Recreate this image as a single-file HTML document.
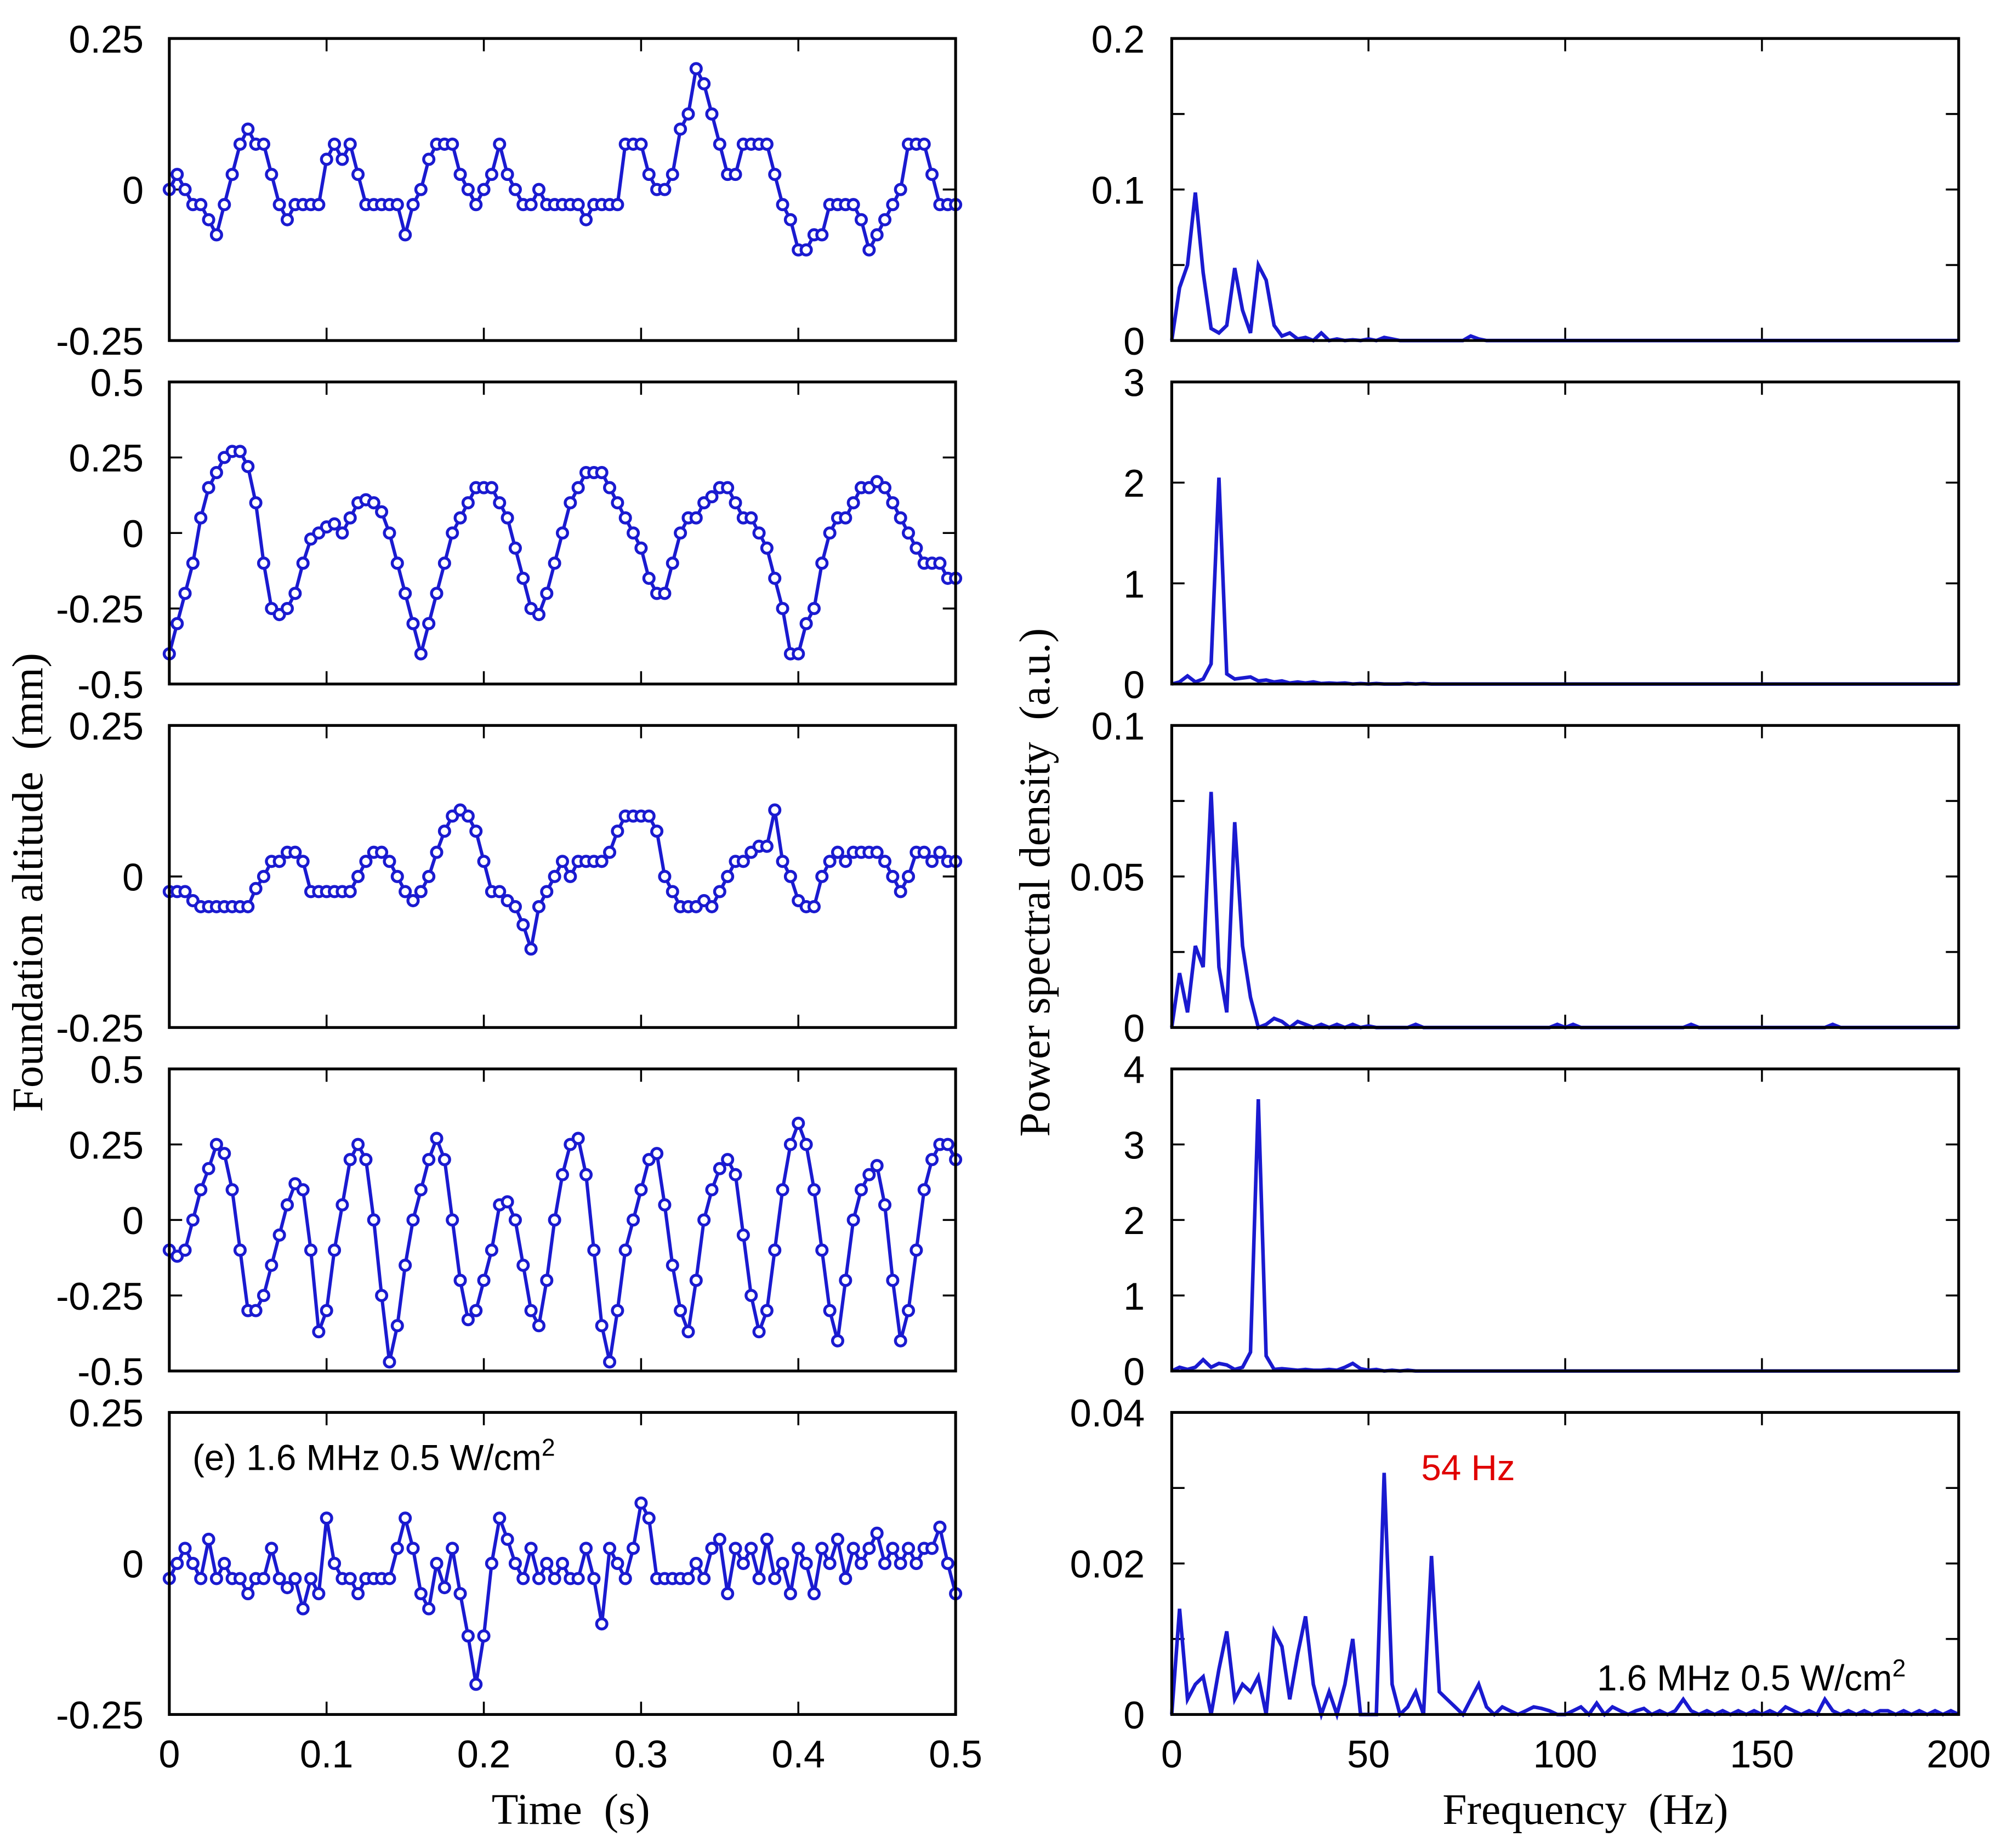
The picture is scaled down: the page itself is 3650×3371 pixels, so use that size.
<!DOCTYPE html>
<html><head><meta charset="utf-8">
<style>
html,body{margin:0;padding:0;background:#fff;}
svg{display:block;}
.tk{font-family:"Liberation Sans",sans-serif;font-size:30px;fill:#000;}
.an{font-family:"Liberation Sans",sans-serif;font-size:28px;fill:#000;}
.ti{font-family:"Liberation Serif",serif;font-size:34px;fill:#000;}
</style></head>
<body>
<svg id="fig" width="3650" height="3371" viewBox="0 0 1560 1440.8" preserveAspectRatio="none" xmlns="http://www.w3.org/2000/svg">
<text class="ti" x="445" y="1422" text-anchor="middle" xml:space="preserve">Time  (s)</text>
<text class="ti" x="1236" y="1422" text-anchor="middle" xml:space="preserve">Frequency  (Hz)</text>
<text class="ti" transform="translate(33,688) rotate(-90)" text-anchor="middle" xml:space="preserve">Foundation altitude  (mm)</text>
<text class="ti" transform="translate(818,688) rotate(-90)" text-anchor="middle" xml:space="preserve">Power spectral density  (a.u.)</text>
</svg>
<script>
const timeSeries1=[0,1,0,-1,-1,-2,-3,-1,1,3, 4,3,3,1,-1,-2,-1,-1,-1,-1, 2,3,2,3,1,-1,-1,-1,-1,-1, -3,-1,0,2,3,3,3,1,0,-1, 0,1,3,1,0,-1,-1,0,-1,-1, -1,-1,-1,-2,-1,-1,-1,-1,3,3, 3,1,0,0,1,4,5,8,7,5, 3,1,1,3,3,3,3,1,-1,-2, -4,-4,-3,-3,-1,-1,-1,-1,-2,-4, -3,-2,-1,0,3,3,3,1,-1,-1, -1].map(v=>v*0.025);
const timeSeries2=[-0.4,-0.3,-0.2,-0.1,0.05,0.15,0.2,0.25,0.27,0.27, 0.22,0.1,-0.1,-0.25,-0.27,-0.25,-0.2,-0.1,-0.02,0.0, 0.02,0.03,0.0,0.05,0.1,0.11,0.1,0.07,0.0,-0.1, -0.2,-0.3,-0.4,-0.3,-0.2,-0.1,0.0,0.05,0.1,0.15, 0.15,0.15,0.1,0.05,-0.05,-0.15,-0.25,-0.27,-0.2,-0.1, 0.0,0.1,0.15,0.2,0.2,0.2,0.15,0.1,0.05,0.0, -0.05,-0.15,-0.2,-0.2,-0.1,0.0,0.05,0.05,0.1,0.12, 0.15,0.15,0.1,0.05,0.05,0.0,-0.05,-0.15,-0.25,-0.4, -0.4,-0.3,-0.25,-0.1,0.0,0.05,0.05,0.1,0.15,0.15, 0.17,0.15,0.1,0.05,0.0,-0.05,-0.1,-0.1,-0.1,-0.15, -0.15];
const timeSeries3=[-0.025,-0.025,-0.025,-0.04,-0.05,-0.05,-0.05,-0.05,-0.05,-0.05, -0.05,-0.02,0.0,0.025,0.025,0.04,0.04,0.025,-0.025,-0.025, -0.025,-0.025,-0.025,-0.025,0.0,0.025,0.04,0.04,0.025,0.0, -0.025,-0.04,-0.025,0.0,0.04,0.075,0.1,0.11,0.1,0.075, 0.025,-0.025,-0.025,-0.04,-0.05,-0.08,-0.12,-0.05,-0.025,0.0, 0.025,0.0,0.025,0.025,0.025,0.025,0.04,0.075,0.1,0.1, 0.1,0.1,0.075,0.0,-0.025,-0.05,-0.05,-0.05,-0.04,-0.05, -0.025,0.0,0.025,0.025,0.04,0.05,0.05,0.11,0.025,0.0, -0.04,-0.05,-0.05,0.0,0.025,0.04,0.025,0.04,0.04,0.04, 0.04,0.025,0.0,-0.025,0.0,0.04,0.04,0.025,0.04,0.025, 0.025];
const timeSeries4=[-0.1,-0.12,-0.1,0,0.1,0.17,0.25,0.22,0.1,-0.1, -0.3,-0.3,-0.25,-0.15,-0.05,0.05,0.12,0.1,-0.1,-0.37, -0.3,-0.1,0.05,0.2,0.25,0.2,0.0,-0.25,-0.47,-0.35, -0.15,0.0,0.1,0.2,0.27,0.2,0.0,-0.2,-0.33,-0.3, -0.2,-0.1,0.05,0.06,0.0,-0.15,-0.3,-0.35,-0.2,0.0, 0.15,0.25,0.27,0.15,-0.1,-0.35,-0.47,-0.3,-0.1,0.0, 0.1,0.2,0.22,0.05,-0.15,-0.3,-0.37,-0.2,0.0,0.1, 0.17,0.2,0.15,-0.05,-0.25,-0.37,-0.3,-0.1,0.1,0.25, 0.32,0.25,0.1,-0.1,-0.3,-0.4,-0.2,0.0,0.1,0.15, 0.18,0.05,-0.2,-0.4,-0.3,-0.1,0.1,0.2,0.25,0.25, 0.2];
const timeSeries5=[-0.025,0.0,0.025,0.0,-0.025,0.04,-0.025,0.0,-0.025,-0.025, -0.05,-0.025,-0.025,0.025,-0.025,-0.04,-0.025,-0.075,-0.025,-0.05, 0.075,0.0,-0.025,-0.025,-0.05,-0.025,-0.025,-0.025,-0.025,0.025, 0.075,0.025,-0.05,-0.075,0.0,-0.04,0.025,-0.05,-0.12,-0.2, -0.12,0.0,0.075,0.04,0.0,-0.025,0.025,-0.025,0.0,-0.025, 0.0,-0.025,-0.025,0.025,-0.025,-0.1,0.025,0.0,-0.025,0.025, 0.1,0.075,-0.025,-0.025,-0.025,-0.025,-0.025,0.0,-0.025,0.025, 0.04,-0.05,0.025,0.0,0.025,-0.025,0.04,-0.025,0.0,-0.05, 0.025,0.0,-0.05,0.025,0.0,0.04,-0.025,0.025,0.0,0.025, 0.05,0.0,0.025,0.0,0.025,0.0,0.025,0.025,0.06,0.0, -0.05];
const psd1=[0,0.035,0.05,0.098,0.045,0.008,0.005,0.01,0.048,0.02,0.005,0.05,0.04,0.01,0.003,0.005,0.001,0.002,0,0.005,0,0.001,0,0.0005,0,0.001,0,0.002,0.001,0,0,0,0,0,0,0,0,0,0.003,0.001];
const psd2=[0,0.02,0.08,0.02,0.05,0.2,2.05,0.1,0.05,0.06,0.07,0.03,0.04,0.02,0.03,0.01,0.02,0.01,0.02,0.005,0.01,0.005,0.01,0,0.005,0,0.005,0,0,0,0.005,0,0.005];
const psd3=[0,0.018,0.005,0.027,0.02,0.078,0.02,0.005,0.068,0.027,0.01,0,0.001,0.003,0.002,0,0.002,0.001,0,0.001,0,0.001,0,0.001,0,0.0005,0,0,0,0,0,0.001,0,0,0,0,0,0,0,0,0,0,0,0,0,0,0,0,0,0.001,0,0.001,0,0,0,0,0,0,0,0,0,0,0,0,0,0,0.001,0,0,0,0,0,0,0,0,0,0,0,0,0,0,0,0,0,0.001];
const psd4=[0,0.05,0.02,0.05,0.15,0.05,0.1,0.08,0.02,0.05,0.25,3.6,0.2,0.02,0.03,0.02,0.01,0.02,0.01,0.01,0.02,0.01,0.05,0.1,0.03,0.01,0.02,0,0.01,0,0.01];
const psd5=[0,0.014,0.002,0.004,0.005,0,0.006,0.011,0.002,0.004,0.003,0.005,0,0.011,0.009,0.002,0.008,0.013,0.004,0,0.003,0,0.004,0.01,0,0,0,0.032,0.004,0,0.001,0.003,0,0.021,0.003,0.002,0.001,0,0.002,0.004,0.001,0,0.001,0.0005,0,0.0005,0.001,0.0008,0.0005,0,0,0.0005,0.001,0,0.0015,0,0.001,0.0005,0,0.0005,0.0008,0,0.0005,0,0.0005,0.002,0.0005,0,0.0005,0,0.0005,0,0.0005,0,0.0005,0,0.0005,0,0.001,0.0005,0,0.0005,0,0.002,0.0005,0,0.0005,0,0.0005,0,0.0005,0.0005,0,0.0005,0,0.0005,0,0.0005,0,0.0005,0];
const timeTicks=[0,0.1,0.2,0.3,0.4,0.5];
const timeTickLabels=["0","0.1","0.2","0.3","0.4","0.5"];
const freqTicks=[0,50,100,150,200];
const freqTickLabels=["0","50","100","150","200"];
const yTicksLeft=[[0.25,0,-0.25],[0.5,0.25,0,-0.25,-0.5],[0.25,0,-0.25],[0.5,0.25,0,-0.25,-0.5],[0.25,0,-0.25]];
const yLabelsLeft=[["0.25","0","-0.25"],["0.5","0.25","0","-0.25","-0.5"],["0.25","0","-0.25"],["0.5","0.25","0","-0.25","-0.5"],["0.25","0","-0.25"]];
const yTicksRight=[[0,0.05,0.1,0.15,0.2],[0,1,2,3],[0,0.025,0.05,0.075,0.1],[0,1,2,3,4],[0,0.01,0.02,0.03,0.04]];
const yLabelsRight=[{0:"0",0.1:"0.1",0.2:"0.2"},{0:"0",1:"1",2:"2",3:"3"},{0:"0",0.05:"0.05",0.1:"0.1"},{0:"0",1:"1",2:"2",3:"3",4:"4"},{0:"0",0.02:"0.02",0.04:"0.04"}];
const leftRanges=[[-0.25,0.25],[-0.5,0.5],[-0.25,0.25],[-0.5,0.5],[-0.25,0.25]];
const rightMax=[0.2,3,0.1,4,0.04];
const series=[timeSeries1,timeSeries2,timeSeries3,timeSeries4,timeSeries5];
const psds=[psd1,psd2,psd3,psd4,psd5];

const NS="http://www.w3.org/2000/svg";
const svg=document.getElementById('fig');
const PH=235.5, LX0=132, LX1=745, RX0=913.5, RX1=1527, BLUE="#1a1ad0";
function mk(tag,attrs,parent){const e=document.createElementNS(NS,tag);for(const k in attrs)e.setAttribute(k,attrs[k]);(parent||svg).appendChild(e);return e;}

for(let p=0;p<5;p++){
  const top=30+267.8*p, bot=top+PH;
  const gL=mk('g',{});
  
  
  const [ymin,ymax]=leftRanges[p];
  const xT=t=>LX0+(t/0.5)*(LX1-LX0);
  const yT=v=>bot-(v-ymin)/(ymax-ymin)*PH;
  yTicksLeft[p].forEach((v,i)=>{
    const y=yT(v);
    mk('line',{x1:LX0,x2:LX0+10,y1:y,y2:y,stroke:'#000','stroke-width':1.5},gL);
    mk('line',{x1:LX1,x2:LX1-10,y1:y,y2:y,stroke:'#000','stroke-width':1.5},gL);
    const t=mk('text',{x:LX0-20,y:y+11,'text-anchor':'end',class:'tk'},gL);t.textContent=yLabelsLeft[p][i];
    
    
  });
  timeTicks.forEach((tv,i)=>{
    const x=xT(tv);
    mk('line',{x1:x,x2:x,y1:bot,y2:bot-10,stroke:'#000','stroke-width':1.5},gL);
    mk('line',{x1:x,x2:x,y1:top,y2:top+10,stroke:'#000','stroke-width':1.5},gL);
    if(p===4){const t=mk('text',{x:x,y:1378,'text-anchor':'middle',class:'tk'},gL);t.textContent=timeTickLabels[i];
      
      }
  });
  const d=series[p];
  const pts=d.map((v,i)=>xT(i*0.005).toFixed(1)+','+yT(v).toFixed(1)).join(' ');
  const ln=mk('polyline',{points:pts,fill:'none',stroke:BLUE,'stroke-width':2.6},gL);
  
  
  d.forEach((v,i)=>{
    const c=mk('circle',{cx:xT(i*0.005),cy:yT(v),r:4,fill:'#fff',stroke:BLUE,'stroke-width':2.3},gL);
    
    
  });
  mk('rect',{x:LX0,y:top,width:LX1-LX0,height:PH,fill:'none',stroke:'#000','stroke-width':2.2},gL);

  const gR=mk('g',{});
  
  
  const xF=f=>RX0+(f/200)*(RX1-RX0);
  const yP=v=>bot-(v/rightMax[p])*PH;
  yTicksRight[p].forEach(v=>{
    const y=yP(v);
    mk('line',{x1:RX0,x2:RX0+10,y1:y,y2:y,stroke:'#000','stroke-width':1.5},gR);
    mk('line',{x1:RX1,x2:RX1-10,y1:y,y2:y,stroke:'#000','stroke-width':1.5},gR);
    const lab=yLabelsRight[p][v];
    if(lab!==undefined){const t=mk('text',{x:RX0-21,y:y+11,'text-anchor':'end',class:'tk'},gR);t.textContent=lab;
      
      }
  });
  freqTicks.forEach((fv,i)=>{
    const x=xF(fv);
    mk('line',{x1:x,x2:x,y1:bot,y2:bot-10,stroke:'#000','stroke-width':1.5},gR);
    mk('line',{x1:x,x2:x,y1:top,y2:top+10,stroke:'#000','stroke-width':1.5},gR);
    if(p===4){const t=mk('text',{x:x,y:1378,'text-anchor':'middle',class:'tk'},gR);t.textContent=freqTickLabels[i];
      
      }
  });
  const q=psds[p].slice();while(q.length<101)q.push(0);
  const pp=q.map((v,i)=>xF(i*2).toFixed(1)+','+yP(v).toFixed(1)).join(' ');
  const pl=mk('polyline',{points:pp,fill:'none',stroke:BLUE,'stroke-width':2.8},gR);
  
  
  mk('rect',{x:RX0,y:top,width:RX1-RX0,height:PH,fill:'none',stroke:'#000','stroke-width':2.2},gR);
}
let a=mk('text',{x:150,y:1146,class:'an'});a.innerHTML='(e) 1.6 MHz 0.5 W/cm<tspan dy="-11" font-size="19">2</tspan>';


let b=mk('text',{x:1108,y:1154,class:'an'});b.textContent='54 Hz';b.style.fill='#e00000';


let c=mk('text',{x:1245,y:1318,class:'an'});c.innerHTML='1.6 MHz 0.5 W/cm<tspan dy="-11" font-size="19">2</tspan>';


</script>
</body></html>
